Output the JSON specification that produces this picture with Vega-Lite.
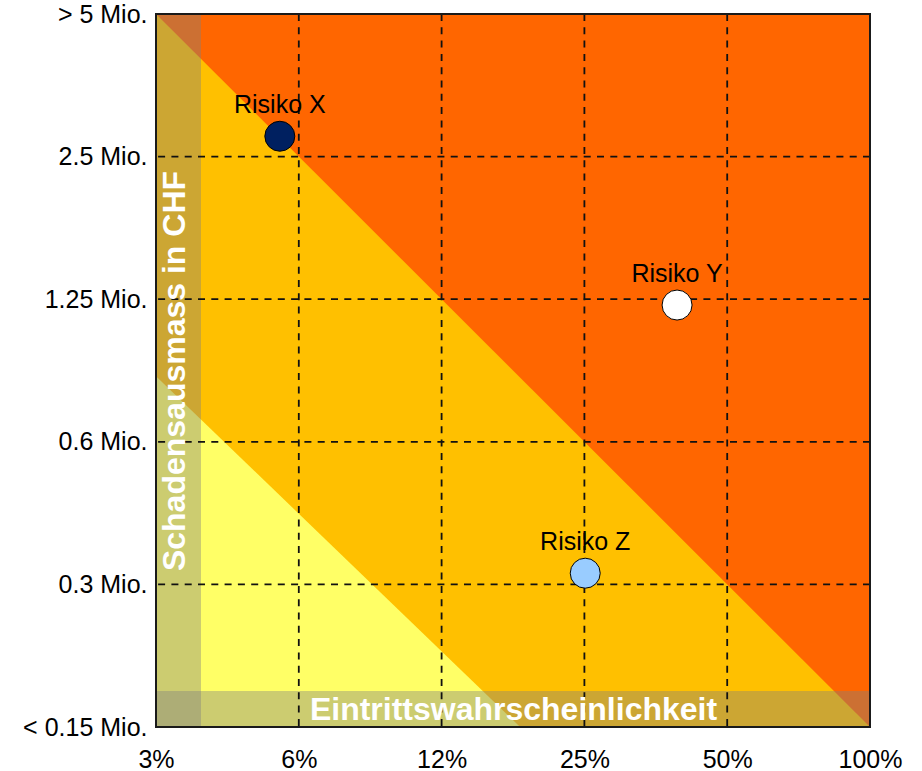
{
  "$schema": "https://vega.github.io/schema/vega-lite/v6.json",
  "width": 714,
  "height": 713,
  "autosize": {"type": "none"},
  "padding": {"left": 156, "top": 14, "right": 52, "bottom": 44},
  "background": "white",
  "config": {
    "font": "Liberation Sans",
    "view": {"fill": "#FF6600", "stroke": null},
    "axis": {
      "grid": false,
      "domain": false,
      "ticks": false,
      "tickSize": 0,
      "labelFont": "Liberation Sans",
      "labelFontSize": 25,
      "labelColor": "#000000",
      "labelFlush": false,
      "labelOverlap": false,
      "labelBound": false,
      "titleFont": "Liberation Sans",
      "titleFontSize": 32,
      "titleFontWeight": "bold",
      "titleColor": "#FFFFFF"
    }
  },
  "datasets": {
    "zonen": [
      {"zone": "mittel", "p": 3.125, "s": 5},
      {"zone": "mittel", "p": 100, "s": 0.15625},
      {"zone": "gering", "p": 3.125, "s": 0.86},
      {"zone": "gering", "p": 18.3, "s": 0.15625}
    ],
    "rasterP": [{"p": 6.25}, {"p": 12.5}, {"p": 25}, {"p": 50}],
    "rasterS": [{"s": 0.3125}, {"s": 0.625}, {"s": 1.25}, {"s": 2.5}],
    "risiken": [
      {"name": "Risiko X", "p": 5.7, "s": 2.76},
      {"name": "Risiko Y", "p": 39.2, "s": 1.215},
      {"name": "Risiko Z", "p": 25.1, "s": 0.33}
    ]
  },
  "layer": [
    {
      "data": {"name": "zonen"},
      "transform": [{"filter": "datum.zone === 'mittel'"}],
      "mark": {"type": "area", "color": "#FFC000", "opacity": 1},
      "encoding": {
        "x": {
          "field": "p",
          "type": "quantitative",
          "scale": {"type": "log", "base": 2, "domain": [3.125, 100], "nice": false},
          "axis": {
            "zindex": 1,
            "values": [3.125, 6.25, 12.5, 25, 50, 100],
            "labelExpr": "datum.value < 4 ? '3%' : datum.value < 8 ? '6%' : datum.value < 16 ? '12%' : datum.value < 32 ? '25%' : datum.value < 64 ? '50%' : '100%'",
            "labelBaseline": "alphabetic",
            "labelAlign": "center",
            "labelPadding": 40,
            "title": "Eintrittswahrscheinlichkeit",
            "titleX": 357,
            "titleY": -18,
            "titleAlign": "center",
            "titleBaseline": "middle"
          }
        },
        "y": {
          "field": "s",
          "type": "quantitative",
          "scale": {"type": "log", "base": 2, "domain": [0.15625, 5], "nice": false},
          "axis": {
            "zindex": 1,
            "values": [0.15625, 0.3125, 0.625, 1.25, 2.5, 5],
            "labelExpr": "datum.value < 0.2 ? '< 0.15 Mio.' : datum.value < 0.4 ? '0.3 Mio.' : datum.value < 0.8 ? '0.6 Mio.' : datum.value < 2 ? '1.25 Mio.' : datum.value < 4 ? '2.5 Mio.' : '> 5 Mio.'",
            "labelAlign": "right",
            "labelBaseline": "middle",
            "labelPadding": 9,
            "title": "Schadensausmass in CHF",
            "titleAngle": 270,
            "titleX": 18,
            "titleY": 356.5,
            "titleAlign": "center",
            "titleBaseline": "middle"
          }
        },
        "y2": {"datum": 0.15625}
      }
    },
    {
      "data": {"name": "zonen"},
      "transform": [{"filter": "datum.zone === 'gering'"}],
      "mark": {"type": "area", "color": "#FFFF66", "opacity": 1},
      "encoding": {
        "x": {"field": "p", "type": "quantitative"},
        "y": {"field": "s", "type": "quantitative"},
        "y2": {"datum": 0.15625}
      }
    },
    {
      "data": {"values": [{}]},
      "mark": {"type": "rect", "color": "#808080", "opacity": 0.4},
      "encoding": {
        "x": {"datum": 3.125},
        "x2": {"datum": 3.888},
        "y": {"datum": 0.15625},
        "y2": {"datum": 5}
      }
    },
    {
      "data": {"values": [{}]},
      "mark": {"type": "rect", "color": "#808080", "opacity": 0.4},
      "encoding": {
        "x": {"datum": 3.125},
        "x2": {"datum": 100},
        "y": {"datum": 0.15625},
        "y2": {"datum": 0.1861}
      }
    },
    {
      "data": {"name": "rasterP"},
      "mark": {"type": "rule", "color": "#111111", "strokeWidth": 1.8, "strokeDash": [7, 6.3]},
      "encoding": {"x": {"field": "p", "type": "quantitative"}}
    },
    {
      "data": {"name": "rasterS"},
      "mark": {"type": "rule", "color": "#111111", "strokeWidth": 1.8, "strokeDash": [7, 6.3]},
      "encoding": {"y": {"field": "s", "type": "quantitative"}}
    },
    {
      "data": {"name": "risiken"},
      "mark": {"type": "circle", "size": 900, "opacity": 1, "stroke": "#000000", "strokeWidth": 1},
      "encoding": {
        "x": {"field": "p", "type": "quantitative"},
        "y": {"field": "s", "type": "quantitative"},
        "color": {
          "field": "name",
          "type": "nominal",
          "scale": {"domain": ["Risiko X", "Risiko Y", "Risiko Z"], "range": ["#002060", "#FFFFFF", "#99CCFF"]},
          "legend": null
        }
      }
    },
    {
      "data": {"name": "risiken"},
      "mark": {"type": "text", "fontSize": 25, "dy": -23, "align": "center", "baseline": "alphabetic", "color": "#000000"},
      "encoding": {
        "x": {"field": "p", "type": "quantitative"},
        "y": {"field": "s", "type": "quantitative"},
        "text": {"field": "name"}
      }
    },
    {
      "data": {"values": [{}]},
      "mark": {"type": "rect", "fill": null, "fillOpacity": 0, "stroke": "#1a1a1a", "strokeWidth": 2},
      "encoding": {
        "x": {"datum": 3.125},
        "x2": {"datum": 100},
        "y": {"datum": 0.15625},
        "y2": {"datum": 5}
      }
    }
  ]
}
